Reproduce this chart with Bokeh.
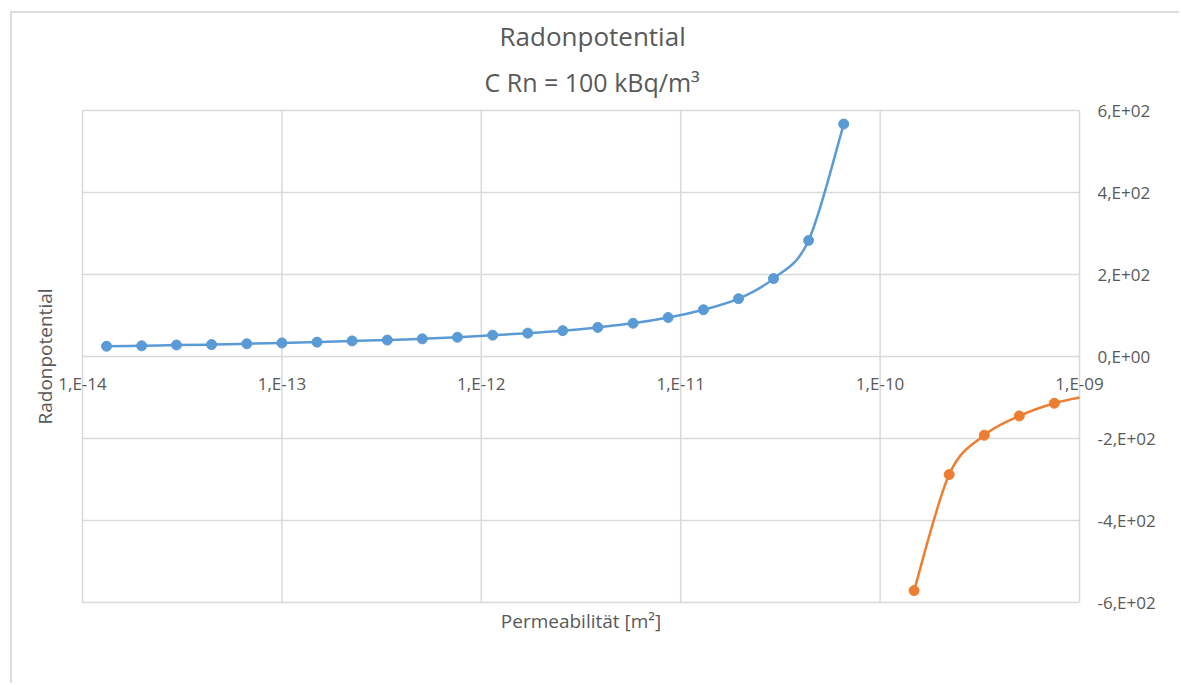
import numpy as np
from bokeh.plotting import figure
from bokeh.models import (LinearAxis, FixedTicker, Title, Label, Range1d)
from bokeh.embed import file_html
from bokeh.resources import INLINE

# ---- data ----
perm_pos = [1.32e-14, 1.98e-14, 2.96e-14, 4.44e-14, 6.67e-14, 1.0e-13, 1.5e-13,
            2.25e-13, 3.38e-13, 5.06e-13, 7.59e-13, 1.14e-12, 1.71e-12, 2.56e-12,
            3.84e-12, 5.77e-12, 8.65e-12, 1.30e-11, 1.95e-11, 2.92e-11, 4.38e-11,
            6.57e-11]
rp_pos = [25, 26, 28, 29, 31, 33, 35, 38, 40, 43, 47, 52, 57, 63, 71, 81, 95,
          114, 141, 190, 283, 567]
perm_neg = [1.48e-10, 2.22e-10, 3.33e-10, 4.99e-10, 7.48e-10, 1.12e-9]
rp_neg = [-571, -288, -192, -145, -114, -95]

x_tick_exps = [-14, -13, -12, -11, -10, -9]
x_tick_labels = ["1,E-14", "1,E-13", "1,E-12", "1,E-11", "1,E-10", "1,E-09"]
y_ticks = [-600, -400, -200, 0, 200, 400, 600]
y_tick_labels = ["-6,E+02", "-4,E+02", "-2,E+02", "0,E+00", "2,E+02", "4,E+02", "6,E+02"]

title_text = "Radonpotential"
subtitle_text = "C Rn = 100 kBq/m\u00b3"
x_title = "Permeabilit\u00e4t [m\u00b2]"
y_title = "Radonpotential"

BLUE = "#5B9BD5"
ORANGE = "#ED7D31"
TXT = "#595959"
GRID = "#d9d9d9"
FONT = "Open Sans"

x_decades = [10.0 ** e for e in x_tick_exps]
x_min, x_max = x_decades[0], x_decades[-1]
y_min, y_max = y_ticks[0], y_ticks[-1]

# the drawing frame is a little larger than the plotted box so that the
# edge tick labels (drawn at y = 0) are not clipped
PX_PER_DECADE = 199.4
XPAD = 26 / PX_PER_DECADE            # decades of empty margin left/right
YPAD = 2 * (y_max - y_min) / 492     # two pixels top/bottom

p = figure(width=1169, height=672, x_axis_type="log",
           x_range=Range1d(x_min / 10 ** XPAD, x_max * 10 ** XPAD),
           y_range=Range1d(y_min - YPAD, y_max + YPAD),
           y_axis_location="right", output_backend="svg", toolbar_location=None,
           min_border_left=44, min_border_top=95, min_border_right=76,
           min_border_bottom=81, margin=(11, 0, 0, 10))
p.styles = {"border-top": "2px solid #dcdcdc", "border-left": "2px solid #dcdcdc"}
p.outline_line_color = None
p.background_fill_color = "white"
p.border_fill_color = "white"
p.xgrid.visible = False
p.ygrid.visible = False

# grid box drawn from the tick arrays
p.segment(x0=x_decades, x1=x_decades, y0=[y_min] * len(x_decades), y1=[y_max] * len(x_decades),
          line_color=GRID, line_width=1.5)
p.segment(x0=[x_min] * len(y_ticks), x1=[x_max] * len(y_ticks), y0=y_ticks, y1=y_ticks,
          line_color=GRID, line_width=1.5)

# bottom axis -> only the x title
xa = p.xaxis[0]
xa.ticker = FixedTicker(ticks=[])
xa.axis_line_color = None
xa.major_tick_out = 0
xa.minor_tick_out = 0
xa.axis_label = x_title
xa.axis_label_text_font = FONT
xa.axis_label_text_font_size = "19px"
xa.axis_label_text_font_style = "normal"
xa.axis_label_text_color = TXT
xa.axis_label_standoff = 3

# x tick labels placed along the y = 0 line
for xv, txt in zip(x_decades, x_tick_labels):
    p.add_layout(Label(x=xv, y=0, text=txt, text_align="center", text_baseline="top",
                       y_offset=-15, text_font=FONT, text_font_size="17px",
                       text_color=TXT))

# right y axis with labels
ya = p.yaxis[0]
ya.ticker = FixedTicker(ticks=y_ticks)
ya.major_label_overrides = {v: s for v, s in zip(y_ticks, y_tick_labels)}
ya.axis_line_color = None
ya.major_tick_out = 0
ya.major_tick_in = 0
ya.minor_tick_out = 0
ya.minor_tick_in = 0
ya.major_label_standoff = -8
ya.major_label_text_font = FONT
ya.major_label_text_font_size = "17px"
ya.major_label_text_color = TXT

# left axis carrying only the y title
yl = LinearAxis(ticker=FixedTicker(ticks=[]), axis_label=y_title)
yl.axis_line_color = None
yl.major_tick_out = 0
yl.minor_tick_out = 0
yl.axis_label_text_font = FONT
yl.axis_label_text_font_size = "19px"
yl.axis_label_text_font_style = "normal"
yl.axis_label_text_color = TXT
yl.axis_label_standoff = -1
p.add_layout(yl, "left")

# titles
sub = Title(text=subtitle_text, align="left", text_font=FONT, text_font_size="25px",
            text_font_style="normal", text_color=TXT, standoff=19, offset=428)
p.add_layout(sub, "above")
main = Title(text=title_text, align="left", text_font=FONT, text_font_size="26px",
             text_font_style="normal", text_color=TXT, standoff=0, offset=443)
p.add_layout(main, "above")


def lerp(a, b, t):
    return (a[0] + (b[0] - a[0]) * t, a[1] + (b[1] - a[1]) * t)


def smooth(xs, ys, lx_max):
    lx = np.log10(np.asarray(xs, dtype=float))
    y = np.asarray(ys, dtype=float)
    n = len(lx)
    out = {k: [] for k in ("x0", "y0", "x1", "y1", "cx0", "cy0", "cx1", "cy1")}
    for i in range(n - 1):
        if lx[i] >= lx_max:
            break
        a = i - 1 if i > 0 else i
        b = i + 2 if i + 2 < n else i + 1
        P0 = (lx[i], y[i])
        P1 = (lx[i] + (lx[i + 1] - lx[a]) / 6, y[i] + (y[i + 1] - y[a]) / 6)
        P2 = (lx[i + 1] - (lx[b] - lx[i]) / 6, y[i + 1] - (y[b] - y[i]) / 6)
        P3 = (lx[i + 1], y[i + 1])
        if lx[i + 1] > lx_max:
            # cut the curve where it leaves the plotted box
            lo, hi = 0.0, 1.0
            for _ in range(60):
                t = (lo + hi) / 2
                A, B, C = lerp(P0, P1, t), lerp(P1, P2, t), lerp(P2, P3, t)
                D, E = lerp(A, B, t), lerp(B, C, t)
                F = lerp(D, E, t)
                if F[0] > lx_max:
                    hi = t
                else:
                    lo = t
            t = lo
            A, B, C = lerp(P0, P1, t), lerp(P1, P2, t), lerp(P2, P3, t)
            D, E = lerp(A, B, t), lerp(B, C, t)
            F = lerp(D, E, t)
            P1, P2, P3 = A, D, F
        out["x0"].append(10 ** P0[0]); out["y0"].append(P0[1])
        out["cx0"].append(10 ** P1[0]); out["cy0"].append(P1[1])
        out["cx1"].append(10 ** P2[0]); out["cy1"].append(P2[1])
        out["x1"].append(10 ** P3[0]); out["y1"].append(P3[1])
    return out


for xs, ys, col in ((perm_pos, rp_pos, BLUE), (perm_neg, rp_neg, ORANGE)):
    b = smooth(xs, ys, np.log10(x_max))
    p.bezier(x0=b["x0"], y0=b["y0"], x1=b["x1"], y1=b["y1"],
             cx0=b["cx0"], cy0=b["cy0"], cx1=b["cx1"], cy1=b["cy1"],
             line_color=col, line_width=2.5)
    inside = [(xv, yv) for xv, yv in zip(xs, ys) if xv <= x_max]
    p.scatter([q[0] for q in inside], [q[1] for q in inside], size=10,
              fill_color=col, line_color=col)

open("out.html", "w").write(file_html(p, INLINE))
